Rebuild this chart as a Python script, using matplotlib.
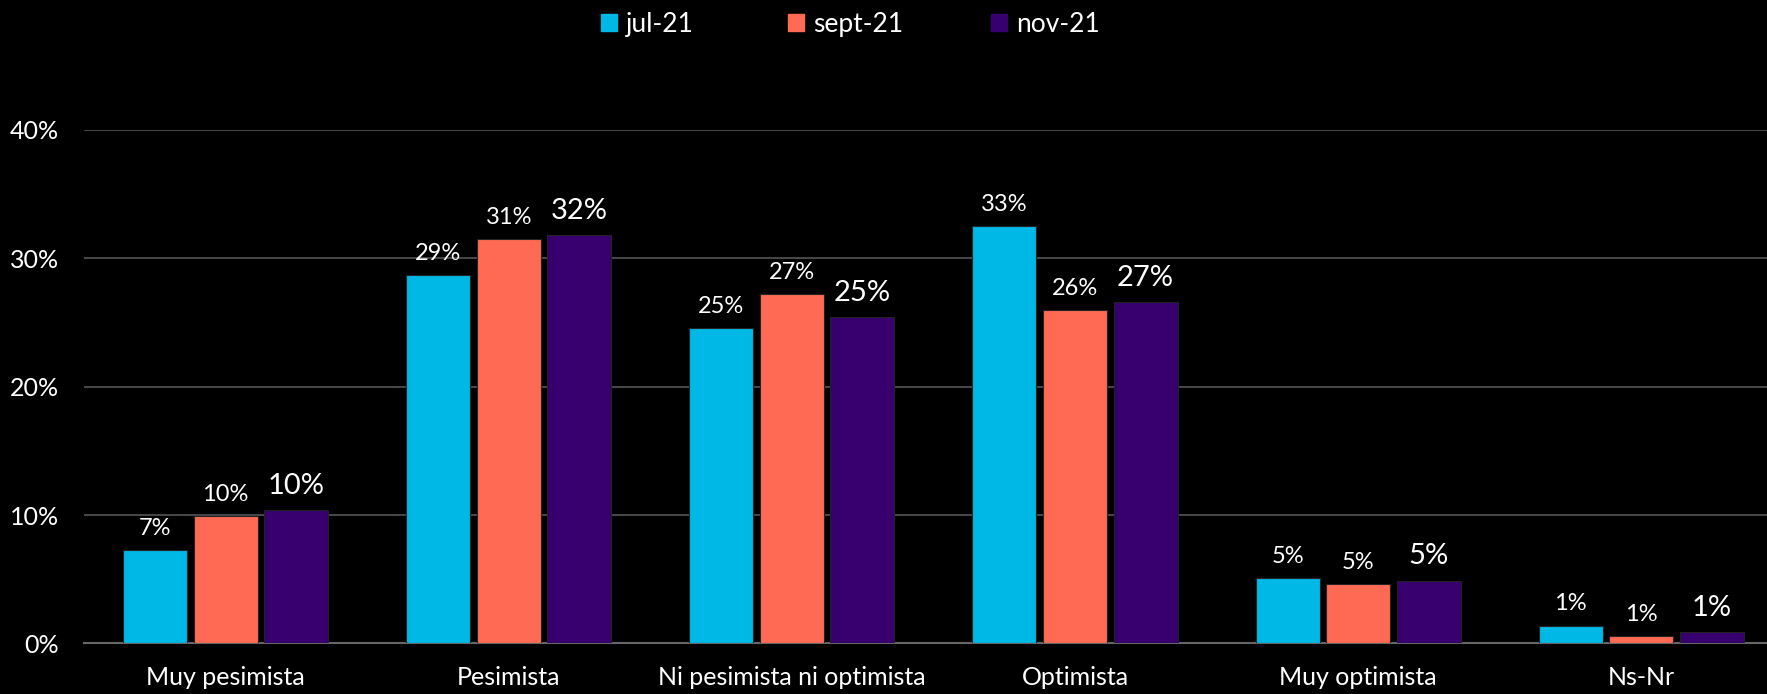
import numpy as np
import matplotlib
matplotlib.use("Agg")
import matplotlib.pyplot as plt
from matplotlib.patches import Patch

plt.rcParams['font.family'] = ['Lato', 'DejaVu Sans']

categories = ['Muy pesimista', 'Pesimista', 'Ni pesimista ni optimista',
              'Optimista', 'Muy optimista', 'Ns-Nr']
series_names = ['jul-21', 'sept-21', 'nov-21']
jul = [7.3, 28.7, 24.6, 32.5, 5.1, 1.4]
sept = [9.9, 31.5, 27.2, 26.0, 4.6, 0.6]
nov = [10.4, 31.8, 25.4, 26.6, 4.9, 0.9]
labels_jul = ['7%', '29%', '25%', '33%', '5%', '1%']
labels_sept = ['10%', '31%', '27%', '26%', '5%', '1%']
labels_nov = ['10%', '32%', '25%', '27%', '5%', '1%']
yticks = [0, 10, 20, 30, 40]

colors = ['#00B8E6', '#FF6A55', '#38006E']

fig = plt.figure(figsize=(17.67, 6.94), dpi=100, facecolor='black')
ax = fig.add_axes([0.0475, 0.0728, 0.9615, 0.74])
ax.set_facecolor('black')

x = np.arange(len(categories))
step = 0.249
width = 0.226
series = [jul, sept, nov]
labels = [labels_jul, labels_sept, labels_nov]
sizes = [17, 17, 21]
for i, (vals, lab) in enumerate(zip(series, labels)):
    pos = x + (i - 1) * step
    ax.bar(pos, vals, width, color=colors[i], label=series_names[i],
           edgecolor='#222222', linewidth=0.8, zorder=3)
    for xp, v, t in zip(pos, vals, lab):
        ax.annotate(t, (xp, v), xytext=(0, 8), textcoords='offset points',
                    ha='center', va='bottom', color='white',
                    fontsize=sizes[i], clip_on=False)

ax.set_xlim(-0.5, len(categories) - 0.5)
ax.set_ylim(0, 40)
ax.set_yticks(yticks)
ax.set_yticklabels([f'{t}%' for t in yticks])
ax.set_xticks(x)
ax.set_xticklabels(categories)
ax.tick_params(axis='y', colors='white', labelsize=18, length=0, pad=18)
ax.tick_params(axis='x', colors='white', labelsize=18, length=0, pad=16)
ax.grid(axis='y', color='#555555', linewidth=1.2, zorder=0)
for s in ['top', 'right', 'left']:
    ax.spines[s].set_visible(False)
ax.spines['bottom'].set_color('#666666')
ax.spines['bottom'].set_linewidth(1.5)

# one legend entry per slot, like the original layout
leg_x = [0.340, 0.446, 0.561]
for name, c, lx in zip(series_names, colors, leg_x):
    leg = fig.legend(handles=[Patch(color=c, label=name)], loc='upper left',
                     bbox_to_anchor=(lx, 0.983), frameon=False, fontsize=19,
                     handlelength=0.6, handleheight=0.6, handletextpad=0.35,
                     borderpad=0, borderaxespad=0)
    for t in leg.get_texts():
        t.set_color('white')

fig.savefig('out.png', dpi=100, facecolor='black')
